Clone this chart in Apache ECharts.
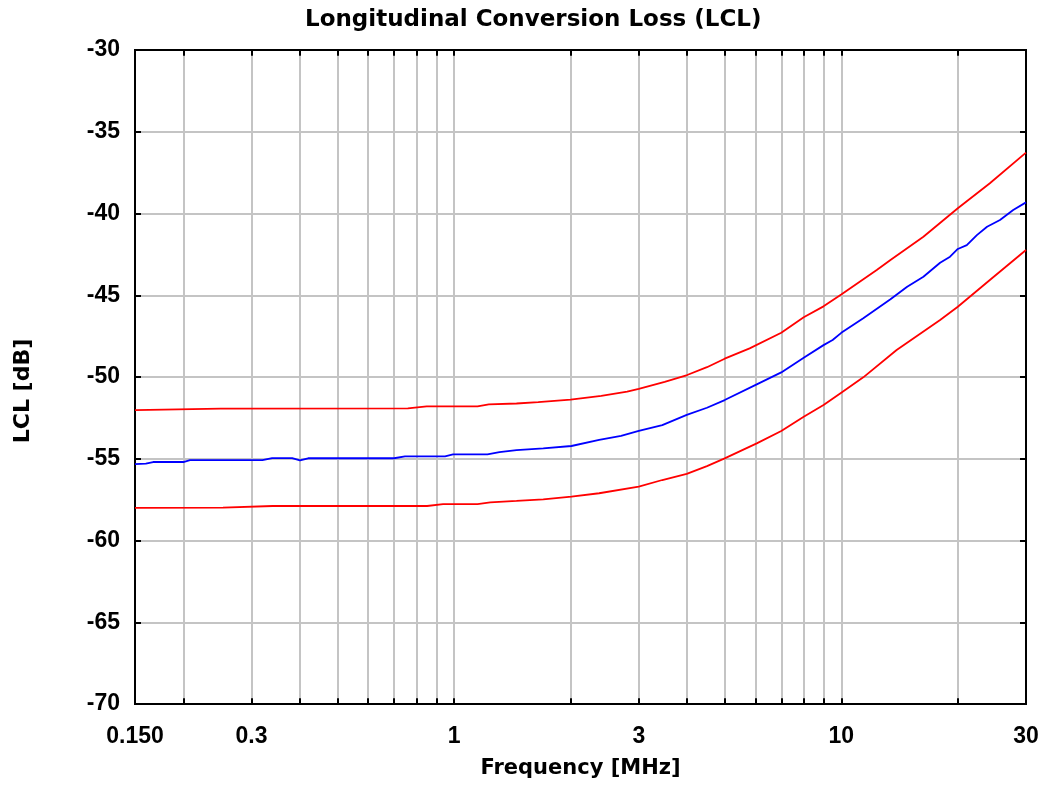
<!DOCTYPE html>
<html><head><meta charset="utf-8">
<script src="https://cdn.jsdelivr.net/npm/echarts@6/dist/echarts.min.js"></script>
<style>html,body{margin:0;padding:0;background:#fff}#c{width:1046px;height:787px}</style>
</head><body><div id="c"></div>
<script>
// ---- data (frequency in MHz, LCL in dB) ----
const upperFreq = [0.15,0.25,0.76,0.85,1.15,1.23,1.45,1.65,2.0,2.4,2.8,3.0,3.5,4.0,4.5,5.0,5.8,7.0,8.0,9.0,10,12.35,13.4,16.3,20,24.2,30];
const upperLCL  = [-52.03,-51.93,-51.92,-51.8,-51.8,-51.68,-51.62,-51.54,-51.38,-51.15,-50.9,-50.72,-50.3,-49.88,-49.4,-48.88,-48.25,-47.29,-46.35,-45.68,-44.96,-43.46,-42.84,-41.42,-39.68,-38.15,-36.28];

const measFreq = [0.15,0.16,0.167,0.2,0.208,0.32,0.339,0.382,0.40,0.42,0.70,0.747,0.948,0.994,1.22,1.31,1.45,1.7,2.01,2.37,2.7,3.0,3.45,3.99,4.5,5.0,6.05,7.0,8.0,9.0,9.5,10,11.4,13.4,14.8,16.3,18.0,19.1,20,21.1,22.4,23.8,25.7,27.8,30];
const measLCL  = [-55.33,-55.3,-55.2,-55.2,-55.08,-55.08,-54.96,-54.96,-55.1,-54.97,-54.97,-54.85,-54.85,-54.73,-54.73,-54.6,-54.47,-54.36,-54.22,-53.85,-53.6,-53.3,-52.94,-52.32,-51.88,-51.41,-50.45,-49.72,-48.82,-48.05,-47.74,-47.3,-46.41,-45.25,-44.48,-43.87,-43.01,-42.64,-42.17,-41.93,-41.32,-40.81,-40.4,-39.79,-39.32];

const lowerFreq = [0.15,0.253,0.34,0.852,0.937,1.15,1.24,1.45,1.7,2.01,2.37,3.0,3.45,3.99,4.5,5.0,6.05,7.0,8.0,9.0,10,11.4,13.9,18.0,20,24.2,30];
const lowerLCL  = [-58.0,-57.99,-57.89,-57.89,-57.77,-57.77,-57.67,-57.58,-57.48,-57.32,-57.11,-56.71,-56.3,-55.93,-55.45,-54.98,-54.06,-53.3,-52.43,-51.71,-50.96,-50.02,-48.35,-46.51,-45.7,-44.07,-42.23];

// ---- axes ----
const gridFreqs = [0.2,0.3,0.4,0.5,0.6,0.7,0.8,0.9,1,2,3,4,5,6,7,8,9,10,20];
const xTickValues = [0.15,0.3,1,3,10,30];
const xTickLabels = ['0.150','0.3','1','3','10','30'];
const xMin = 0.15, xMax = 30;
const yMin = -70, yMax = -30, yStep = 5;
const tickLenDb = 0.35;

const GRID_GRAY = '#c4c4c4';
const TICK_FONT = 'Liberation Sans, Arial, sans-serif';
const NAME_FONT = 'DejaVu Sans, sans-serif';

const pairs = (xs, ys) => xs.map((x, i) => [x, ys[i]]);

const chart = echarts.init(document.getElementById('c'), null, {renderer: 'canvas'});

const tickMarks = [];
gridFreqs.forEach(v => {
  tickMarks.push([{coord: [v, yMin]}, {coord: [v, yMin + tickLenDb]}]);
  tickMarks.push([{coord: [v, yMax]}, {coord: [v, yMax - tickLenDb]}]);
});

const yAxisCommon = {
  type: 'value', min: yMin, max: yMax, interval: yStep,
  axisLine: {show: true, lineStyle: {color: '#000', width: 2}},
  axisTick: {show: true, inside: true, length: 6, lineStyle: {color: '#000', width: 2}}
};

chart.setOption({
  animation: false,
  backgroundColor: '#fff',
  title: {
    text: 'Longitudinal Conversion Loss (LCL)',
    left: 305, top: 9, padding: 0,
    textStyle: {fontFamily: NAME_FONT, fontWeight: 'bold', fontSize: 23, color: '#000'}
  },
  grid: {left: 135, right: 20, top: 50, bottom: 83, show: true, borderColor: '#000', borderWidth: 2, containLabel: false},
  xAxis: {
    type: 'log', logBase: 10, min: xMin, max: xMax,
    name: 'Frequency [MHz]', nameLocation: 'middle', nameGap: 54,
    nameTextStyle: {fontFamily: NAME_FONT, fontWeight: 'bold', fontSize: 21, color: '#000'},
    axisLine: {show: true, lineStyle: {color: '#000', width: 2}},
    axisTick: {show: false}, axisLabel: {show: false}, splitLine: {show: false}
  },
  yAxis: [
    Object.assign({}, yAxisCommon, {
      position: 'left',
      name: 'LCL [dB]', nameLocation: 'middle', nameGap: 101,
      nameTextStyle: {fontFamily: NAME_FONT, fontWeight: 'bold', fontSize: 22, color: '#000', padding: [0, 28, 0, 0]},
      axisLabel: {margin: 15, fontFamily: TICK_FONT, fontWeight: 'bold', fontSize: 23, color: '#000'},
      splitLine: {show: true, showMinLine: false, showMaxLine: false, lineStyle: {color: GRID_GRAY, width: 2}}
    }),
    Object.assign({}, yAxisCommon, {
      position: 'right',
      axisLabel: {show: false}, splitLine: {show: false}
    })
  ],
  series: [
    {
      name: 'gridlines', type: 'line', data: [], silent: true, z: 1,
      markLine: {
        silent: true, symbol: 'none', animation: false, z: 1,
        lineStyle: {color: GRID_GRAY, width: 2, type: 'solid'},
        label: {show: false},
        emphasis: {disabled: true},
        data: gridFreqs.map(v => ({xAxis: v}))
      }
    },
    {
      name: 'ticks', type: 'line', data: [], silent: true, z: 4,
      markLine: {
        silent: true, symbol: 'none', animation: false, z: 6,
        lineStyle: {color: '#000', width: 2, type: 'solid'},
        label: {show: false},
        emphasis: {disabled: true},
        data: tickMarks
      }
    },
    {
      name: 'xlabels', type: 'line', data: [], silent: true, z: 4,
      markLine: {
        silent: true, symbol: 'none', animation: false, z: 6,
        lineStyle: {color: 'rgba(0,0,0,0)', width: 0},
        emphasis: {disabled: true},
        label: {show: true, position: 'start', distance: 21, color: '#000',
                fontFamily: TICK_FONT, fontWeight: 'bold', fontSize: 23},
        data: xTickValues.map((v, i) => ({xAxis: v, label: {formatter: xTickLabels[i]}}))
      }
    },
    {
      name: 'Upper limit', type: 'line', data: pairs(upperFreq, upperLCL), z: 3,
      showSymbol: false, symbol: 'none', lineStyle: {color: '#ff0000', width: 1.8}, itemStyle: {color: '#ff0000'}
    },
    {
      name: 'Measured', type: 'line', data: pairs(measFreq, measLCL), z: 3,
      showSymbol: false, symbol: 'none', lineStyle: {color: '#0000ff', width: 1.8}, itemStyle: {color: '#0000ff'}
    },
    {
      name: 'Lower limit', type: 'line', data: pairs(lowerFreq, lowerLCL), z: 3,
      showSymbol: false, symbol: 'none', lineStyle: {color: '#ff0000', width: 1.8}, itemStyle: {color: '#ff0000'}
    }
  ]
});
</script>
</body></html>
